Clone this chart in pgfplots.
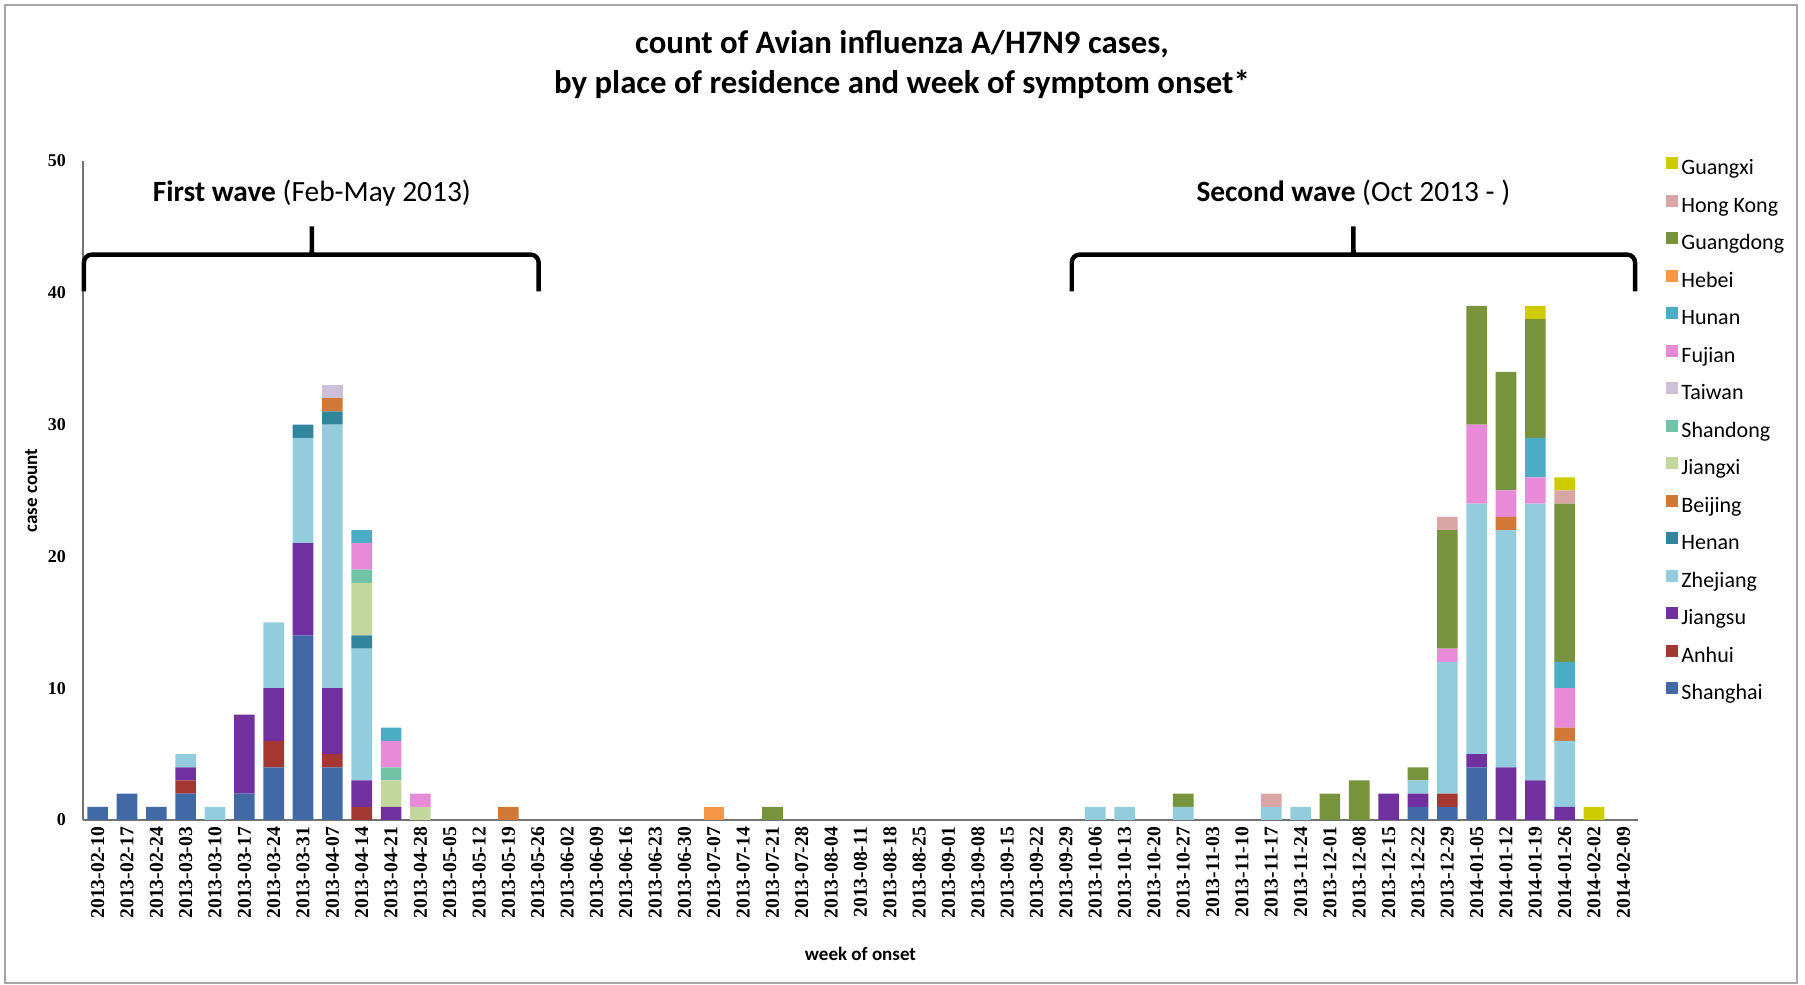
\documentclass[border=0pt]{standalone}
\usepackage{fontspec}
\setmainfont{Carlito}
\newfontfamily\tickfont{Liberation Serif}
\usepackage{pgfplots}
\usepackage{pgfplotstable}
\pgfplotsset{compat=1.18}

\definecolor{cSh}{RGB}{64,105,165}
\definecolor{cAn}{RGB}{165,55,50}
\definecolor{cJs}{RGB}{112,48,160}
\definecolor{cZj}{RGB}{147,205,221}
\definecolor{cHn}{RGB}{49,133,156}
\definecolor{cBj}{RGB}{210,120,55}
\definecolor{cJx}{RGB}{195,214,155}
\definecolor{cSd}{RGB}{112,195,165}
\definecolor{cTw}{RGB}{204,192,218}
\definecolor{cFj}{RGB}{232,138,216}
\definecolor{cHu}{RGB}{75,172,198}
\definecolor{cHb}{RGB}{247,150,70}
\definecolor{cGd}{RGB}{119,147,60}
\definecolor{cHK}{RGB}{217,165,165}
\definecolor{cGx}{RGB}{204,204,0}

% weekly counts by place of residence
\pgfplotstableread{
idx Sh An Js Zj Hn Bj Jx Sd Tw Fj Hu Hb Gd HK Gx
0  1 0 0 0 0 0 0 0 0 0 0 0 0 0 0
1  2 0 0 0 0 0 0 0 0 0 0 0 0 0 0
2  1 0 0 0 0 0 0 0 0 0 0 0 0 0 0
3  2 1 1 1 0 0 0 0 0 0 0 0 0 0 0
4  0 0 0 1 0 0 0 0 0 0 0 0 0 0 0
5  2 0 6 0 0 0 0 0 0 0 0 0 0 0 0
6  4 2 4 5 0 0 0 0 0 0 0 0 0 0 0
7  14 0 7 8 1 0 0 0 0 0 0 0 0 0 0
8  4 1 5 20 1 1 0 0 1 0 0 0 0 0 0
9  0 1 2 10 1 0 4 1 0 2 1 0 0 0 0
10 0 0 1 0 0 0 2 1 0 2 1 0 0 0 0
11 0 0 0 0 0 0 1 0 0 1 0 0 0 0 0
12 0 0 0 0 0 0 0 0 0 0 0 0 0 0 0
13 0 0 0 0 0 0 0 0 0 0 0 0 0 0 0
14 0 0 0 0 0 1 0 0 0 0 0 0 0 0 0
15 0 0 0 0 0 0 0 0 0 0 0 0 0 0 0
16 0 0 0 0 0 0 0 0 0 0 0 0 0 0 0
17 0 0 0 0 0 0 0 0 0 0 0 0 0 0 0
18 0 0 0 0 0 0 0 0 0 0 0 0 0 0 0
19 0 0 0 0 0 0 0 0 0 0 0 0 0 0 0
20 0 0 0 0 0 0 0 0 0 0 0 0 0 0 0
21 0 0 0 0 0 0 0 0 0 0 0 1 0 0 0
22 0 0 0 0 0 0 0 0 0 0 0 0 0 0 0
23 0 0 0 0 0 0 0 0 0 0 0 0 1 0 0
24 0 0 0 0 0 0 0 0 0 0 0 0 0 0 0
25 0 0 0 0 0 0 0 0 0 0 0 0 0 0 0
26 0 0 0 0 0 0 0 0 0 0 0 0 0 0 0
27 0 0 0 0 0 0 0 0 0 0 0 0 0 0 0
28 0 0 0 0 0 0 0 0 0 0 0 0 0 0 0
29 0 0 0 0 0 0 0 0 0 0 0 0 0 0 0
30 0 0 0 0 0 0 0 0 0 0 0 0 0 0 0
31 0 0 0 0 0 0 0 0 0 0 0 0 0 0 0
32 0 0 0 0 0 0 0 0 0 0 0 0 0 0 0
33 0 0 0 0 0 0 0 0 0 0 0 0 0 0 0
34 0 0 0 1 0 0 0 0 0 0 0 0 0 0 0
35 0 0 0 1 0 0 0 0 0 0 0 0 0 0 0
36 0 0 0 0 0 0 0 0 0 0 0 0 0 0 0
37 0 0 0 1 0 0 0 0 0 0 0 0 1 0 0
38 0 0 0 0 0 0 0 0 0 0 0 0 0 0 0
39 0 0 0 0 0 0 0 0 0 0 0 0 0 0 0
40 0 0 0 1 0 0 0 0 0 0 0 0 0 1 0
41 0 0 0 1 0 0 0 0 0 0 0 0 0 0 0
42 0 0 0 0 0 0 0 0 0 0 0 0 2 0 0
43 0 0 0 0 0 0 0 0 0 0 0 0 3 0 0
44 0 0 2 0 0 0 0 0 0 0 0 0 0 0 0
45 1 0 1 1 0 0 0 0 0 0 0 0 1 0 0
46 1 1 0 10 0 0 0 0 0 1 0 0 9 1 0
47 4 0 1 19 0 0 0 0 0 6 0 0 9 0 0
48 0 0 4 18 0 1 0 0 0 2 0 0 9 0 0
49 0 0 3 21 0 0 0 0 0 2 3 0 9 0 1
50 0 0 1 5 0 1 0 0 0 3 2 0 12 1 1
51 0 0 0 0 0 0 0 0 0 0 0 0 0 0 1
52 0 0 0 0 0 0 0 0 0 0 0 0 0 0 0
}\hdata

\begin{document}
\begin{tikzpicture}
  \path (-41.5pt,-82.5pt) rectangle (861pt,410pt);
  \draw[black!35, line width=0.8pt] (-39pt,-81.5pt) rectangle (857pt,407.5pt);
  \begin{axis}[
    scale only axis,
    width=777.5pt, height=329.5pt,
    ybar stacked, bar width=10.3pt,
    xmin=-0.5, xmax=52.5,
    ymin=0, ymax=50,
    ytick={0,10,...,50},
    xtick=data,
    xticklabels={2013-02-10,2013-02-17,2013-02-24,2013-03-03,2013-03-10,2013-03-17,2013-03-24,2013-03-31,2013-04-07,2013-04-14,2013-04-21,2013-04-28,2013-05-05,2013-05-12,2013-05-19,2013-05-26,2013-06-02,2013-06-09,2013-06-16,2013-06-23,2013-06-30,2013-07-07,2013-07-14,2013-07-21,2013-07-28,2013-08-04,2013-08-11,2013-08-18,2013-08-25,2013-09-01,2013-09-08,2013-09-15,2013-09-22,2013-09-29,2013-10-06,2013-10-13,2013-10-20,2013-10-27,2013-11-03,2013-11-10,2013-11-17,2013-11-24,2013-12-01,2013-12-08,2013-12-15,2013-12-22,2013-12-29,2014-01-05,2014-01-12,2014-01-19,2014-01-26,2014-02-02,2014-02-09},
    /pgf/number format/assume math mode=true,
    xticklabel style={rotate=90, anchor=east, font=\tickfont\bfseries\fontsize{9.8}{10}\selectfont},
    yticklabel style={font=\tickfont\bfseries\fontsize{9}{10}\selectfont, xshift=-5pt},
    axis x line=bottom, axis y line=left,
    axis line style={-, black!55, line width=1pt},
    major tick length=0pt,
    xlabel={\textbf{week of onset}},
    ylabel={\textbf{case count}},
    label style={font=\fontsize{9.5}{11}\selectfont},
    xlabel style={yshift=-7.5pt},
    ylabel style={yshift=-1.5pt},
    clip=false,
    reverse legend,
    legend cell align=left,
    legend image code/.code={\fill[#1] (0pt,0pt) rectangle (6pt,6pt);},
    legend style={draw=none, fill=none, at={(rel axis cs:1.018,1.006)}, anchor=north west,
      inner sep=0pt, row sep=7.5pt, column sep=1.5pt,
      nodes={inner sep=0pt, text height=8pt, text depth=2.5pt},
      font=\fontsize{11}{12}\selectfont},
  ]
    \addplot[fill=cSh, draw=none] table[x=idx, y=Sh]{\hdata}; \addlegendentry{Shanghai}
    \addplot[fill=cAn, draw=none] table[x=idx, y=An]{\hdata}; \addlegendentry{Anhui}
    \addplot[fill=cJs, draw=none] table[x=idx, y=Js]{\hdata}; \addlegendentry{Jiangsu}
    \addplot[fill=cZj, draw=none] table[x=idx, y=Zj]{\hdata}; \addlegendentry{Zhejiang}
    \addplot[fill=cHn, draw=none] table[x=idx, y=Hn]{\hdata}; \addlegendentry{Henan}
    \addplot[fill=cBj, draw=none] table[x=idx, y=Bj]{\hdata}; \addlegendentry{Beijing}
    \addplot[fill=cJx, draw=none] table[x=idx, y=Jx]{\hdata}; \addlegendentry{Jiangxi}
    \addplot[fill=cSd, draw=none] table[x=idx, y=Sd]{\hdata}; \addlegendentry{Shandong}
    \addplot[fill=cTw, draw=none] table[x=idx, y=Tw]{\hdata}; \addlegendentry{Taiwan}
    \addplot[fill=cFj, draw=none] table[x=idx, y=Fj]{\hdata}; \addlegendentry{Fujian}
    \addplot[fill=cHu, draw=none] table[x=idx, y=Hu]{\hdata}; \addlegendentry{Hunan}
    \addplot[fill=cHb, draw=none] table[x=idx, y=Hb]{\hdata}; \addlegendentry{Hebei}
    \addplot[fill=cGd, draw=none] table[x=idx, y=Gd]{\hdata}; \addlegendentry{Guangdong}
    \addplot[fill=cHK, draw=none] table[x=idx, y=HK]{\hdata}; \addlegendentry{Hong Kong}
    \addplot[fill=cGx, draw=none] table[x=idx, y=Gx]{\hdata}; \addlegendentry{Guangxi}

    % wave braces
    \draw[line width=2.2pt, rounded corners=4pt]
      (axis cs:-0.47,40.1) -- (axis cs:-0.47,42.9) -- (axis cs:7.0,42.9)
      .. controls (axis cs:7.3,42.9) and (axis cs:7.3,43.3) .. (axis cs:7.3,45.4)
      .. controls (axis cs:7.3,43.3) and (axis cs:7.3,42.9) .. (axis cs:7.6,42.9)
      -- (axis cs:15.03,42.9) -- (axis cs:15.03,40.1);
    \draw[line width=2.2pt, rounded corners=4pt]
      (axis cs:33.2,40.1) -- (axis cs:33.2,42.9) -- (axis cs:42.5,42.9)
      .. controls (axis cs:42.8,42.9) and (axis cs:42.8,43.3) .. (axis cs:42.8,45.4)
      .. controls (axis cs:42.8,43.3) and (axis cs:42.8,42.9) .. (axis cs:43.1,42.9)
      -- (axis cs:52.4,42.9) -- (axis cs:52.4,40.1);
    \node[font=\fontsize{14.7}{16}\selectfont] at (axis cs:7.3,47.6) {\textbf{First wave} (Feb-May 2013)};
    \node[font=\fontsize{14.7}{16}\selectfont] at (axis cs:42.8,47.6) {\textbf{Second wave} (Oct 2013 - )};
  \end{axis}
  \node[align=center, font=\fontsize{16.4}{20}\selectfont\bfseries] at (409.5pt,377.5pt)
    {count of Avian influenza A/H7N9 cases,\\ by place of residence and week of symptom onset*};
\end{tikzpicture}
\end{document}
